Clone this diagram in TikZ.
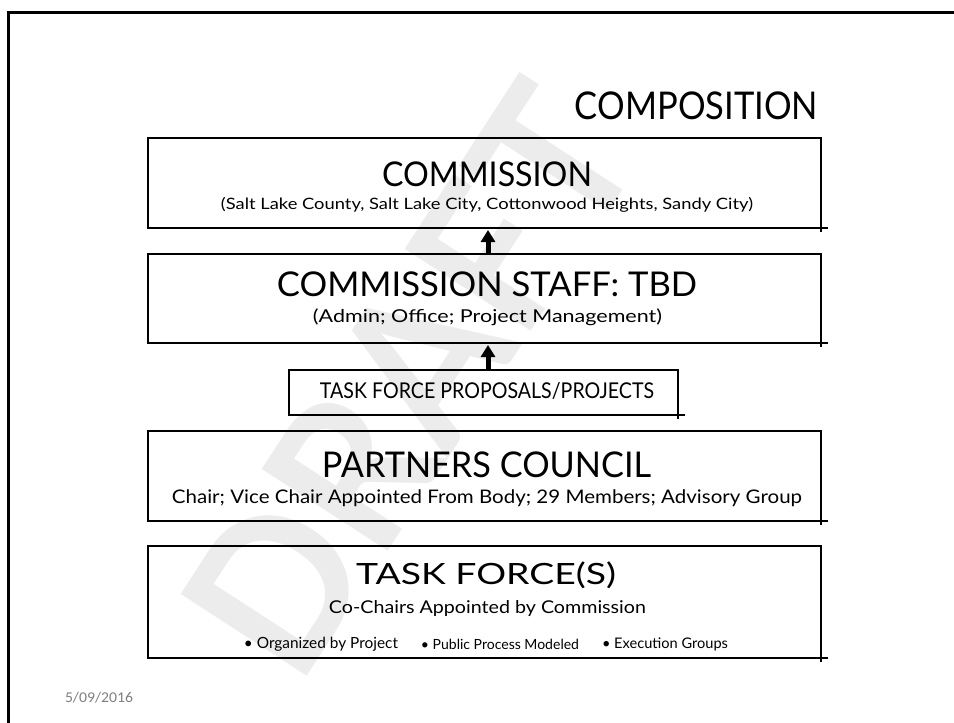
\documentclass[tikz,border=0pt]{standalone}
\usepackage{fontspec}
\setmainfont{Lato}
\newfontfamily\datefont{Carlito}
\usetikzlibrary{arrows.meta}
\newcommand\fitbox[3]{\resizebox*{#1}{#2}{#3}}
\definecolor{dategray}{HTML}{7F7F7F}
\definecolor{wmgray}{HTML}{ECECEC}
\tikzset{
  txt/.style={inner sep=0pt, outer sep=0pt, anchor=center},
  box/.style={draw, line width=2pt, inner sep=0pt, outer sep=0pt},
  wide/.style={box, minimum width=673pt},
  overhang/.style={line width=2pt},
  uparrow/.style={line width=5pt, -{Triangle[width=14pt,length=12pt]}},
  frameline/.style={line width=3pt}
}
\begin{document}
\begin{tikzpicture}[x=1pt,y=-1pt]
\useasboundingbox (0,0) rectangle (954,723);
% watermark
\node[txt, rotate=57, text=wmgray] (wm) at (410,380) {\fitbox{640pt}{150pt}{\bfseries DRAFT}};
% slide frame
\draw[frameline] (8.5,723) -- (8.5,12.5) -- (954,12.5);
% title
\node[txt] (comp) at (696.5,106) {\fitbox{243pt}{28pt}{COMPOSITION}};
% boxes
\node[wide, minimum height=90pt] (commission) at (484.5,183) {};
\node[wide, minimum height=89pt] (staff) at (484.5,298.5) {};
\node[box, minimum width=389pt, minimum height=45pt] (proposals) at (483.5,392.5) {};
\node[wide, minimum height=90pt] (partners) at (484.5,476) {};
\node[wide, minimum height=112pt] (taskforce) at (484.5,602) {};
% overhangs (sketch style)
\foreach \b in {commission,staff,partners,taskforce,proposals}{
  \draw[overhang] (\b.south east) ++(-1,0) -- ++(8,0);
  \draw[overhang] (\b.south east) -- ++(0,4);
}
% texts
\node[txt] (t1) at (487,174.5) {\fitbox{210pt}{25pt}{COMMISSION}};
\node[txt] (s1) at (487,204.5) {\fitbox{532pt}{15pt}{(Salt Lake County, Salt Lake City, Cottonwood Heights, Sandy City)}};
\node[txt] (t2) at (487,284.5) {\fitbox{420pt}{25pt}{COMMISSION STAFF: TBD}};
\node[txt] (s2) at (487.5,317.5) {\fitbox{349pt}{17pt}{(Admin; Office; Project Management)}};
\node[txt] (t3) at (487,390.5) {\fitbox{334pt}{17pt}{TASK FORCE PROPOSALS/PROJECTS}};
\node[txt] (t4) at (486.5,465) {\fitbox{329pt}{26pt}{PARTNERS COUNCIL}};
\node[txt] (s4) at (487,498.5) {\fitbox{630pt}{17pt}{Chair; Vice Chair Appointed From Body; 29 Members; Advisory Group}};
\node[txt] (t5) at (486,575) {\fitbox{260pt}{27pt}{TASK FORCE(S)}};
\node[txt] (s5) at (487.5,609) {\fitbox{317pt}{16pt}{Co-Chairs Appointed by Commission}};
\node[txt] (b1) at (321,644.5) {\resizebox{154pt}{!}{• Organized by Project}};
\node[txt] (b2) at (500,644.5) {\resizebox{158pt}{!}{• Public Process Modeled}};
\node[txt] (b3) at (665,644.5) {\resizebox{126pt}{!}{• Execution Groups}};
% arrows
\coordinate (ax) at (488,0);
\draw[uparrow] (ax |- staff.north) -- ([yshift=-2pt]ax |- commission.south);
\draw[uparrow] (ax |- proposals.north) -- ([yshift=-2pt]ax |- staff.south);
% date
\node[txt, text=dategray] (date) at (99,697.5) {\datefont\fitbox{68pt}{11pt}{5/09/2016}};
\end{tikzpicture}
\end{document}
